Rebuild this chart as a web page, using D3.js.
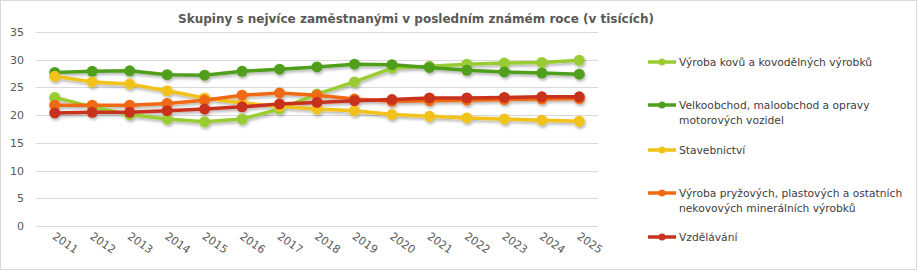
<!DOCTYPE html>
<html lang="cs">
<head>
  <meta charset="UTF-8">
  <title>Skupiny s nejvíce zaměstnanými</title>
  <script src="https://d3js.org/d3.v7.min.js"></script>
  <style>
    body {
      margin: 0;
      background: white;
      font-family: "DejaVu Sans", sans-serif;
    }

    svg {
      display: block;
    }

    .grid line {
      stroke: #d9d9d9;
      stroke-width: 1;
    }

    .axis text {
      fill: #595959;
      font-size: 11px;
    }

    .legend text {
      fill: #404040;
      font-size: 10.7px;
    }
  </style>
</head>
<body>
  <svg id="chart"></svg>
  <script>
    // Years and series (thousands of employees)
    const years = ["2011", "2012", "2013", "2014", "2015", "2016", "2017", "2018",
      "2019", "2020", "2021", "2022", "2023", "2024", "2025"];

    const kovy = [23.2, 21.5, 20.1, 19.3, 18.8, 19.3, 21.1, 23.8, 26.0, 28.5, 28.8, 29.2, 29.4, 29.5, 29.9];
    const obchod = [27.7, 27.9, 28.0, 27.3, 27.2, 27.9, 28.3, 28.7, 29.2, 29.1, 28.6, 28.1, 27.8, 27.6, 27.4];
    const stavebnictvi = [27.0, 26.0, 25.6, 24.4, 23.1, 22.2, 21.6, 21.1, 20.8, 20.1, 19.8, 19.5, 19.3, 19.1, 18.9];
    const pryz = [21.8, 21.8, 21.8, 22.1, 22.7, 23.6, 24.0, 23.6, 22.9, 22.5, 22.6, 22.7, 22.8, 22.9, 23.0];
    const vzdelavani = [20.4, 20.5, 20.5, 20.8, 21.1, 21.5, 22.0, 22.3, 22.6, 22.8, 23.1, 23.1, 23.2, 23.3, 23.3];

    const seriesNames = [
      ["Výroba kovů a kovodělných výrobků"],
      ["Velkoobchod, maloobchod a opravy", "motorových vozidel"],
      ["Stavebnictví"],
      ["Výroba pryžových, plastových a ostatních", "nekovových minerálních výrobků"],
      ["Vzdělávání"]
    ];
    const seriesColors = ["#99cc33", "#4f9f1f", "#f2c21a", "#f06a12", "#c8321e"];
    const yTicks = [0, 5, 10, 15, 20, 25, 30, 35];

    const series = [kovy, obchod, stavebnictvi, pryz, vzdelavani].map((values, i) => ({
      names: seriesNames[i],
      color: seriesColors[i],
      values: values
    }));

    const width = 920;
    const height = 273;

    const svg = d3.select("#chart")
      .attr("width", width)
      .attr("height", height);

    // drop shadow like the original
    const defs = svg.append("defs");
    const shadow = defs.append("filter")
      .attr("id", "shadow")
      .attr("x", "-10%").attr("y", "-50%")
      .attr("width", "120%").attr("height", "200%");
    shadow.append("feDropShadow")
      .attr("dx", 1).attr("dy", 2)
      .attr("stdDeviation", 1.5)
      .attr("flood-color", "#000")
      .attr("flood-opacity", 0.3);

    // outer frame
    svg.append("rect")
      .attr("x", 0.5).attr("y", 0.5)
      .attr("width", 916).attr("height", 269)
      .attr("fill", "white")
      .attr("stroke", "#d9d9d9");

    // title
    svg.append("text")
      .attr("x", 416)
      .attr("y", 23)
      .attr("text-anchor", "middle")
      .attr("font-size", "12px")
      .attr("font-weight", "bold")
      .attr("fill", "#595959")
      .text("Skupiny s nejvíce zaměstnanými v posledním známém roce (v tisících)");

    // scales
    const x = d3.scaleBand()
      .domain(years)
      .range([36, 598]);

    const y = d3.scaleLinear()
      .domain([0, 35])
      .range([226, 32]);

    // gridlines
    svg.append("g")
      .attr("class", "grid")
      .selectAll("line")
      .data(yTicks)
      .enter()
      .append("line")
      .attr("x1", 36)
      .attr("x2", 598)
      .attr("y1", d => Math.round(y(d)) + 0.5)
      .attr("y2", d => Math.round(y(d)) + 0.5);

    // Y axis
    const yAxis = svg.append("g")
      .attr("class", "axis")
      .attr("transform", "translate(30, 0)")
      .call(d3.axisLeft(y).tickValues(yTicks).tickSize(0).tickPadding(6));
    yAxis.select(".domain").remove();
    yAxis.selectAll("text").attr("font-family", "DejaVu Sans");

    // X axis, rotated labels
    const xAxis = svg.append("g")
      .attr("class", "axis")
      .attr("transform", "translate(0, 226)")
      .call(d3.axisBottom(x).tickSize(0).tickPadding(0));
    xAxis.select(".domain").remove();
    xAxis.selectAll("text")
      .attr("font-family", "DejaVu Sans")
      .attr("font-size", "10.5px")
      .attr("text-anchor", "start")
      .attr("dy", 0)
      .attr("y", 0)
      .attr("transform", "translate(-3, 12) rotate(35)");

    // lines
    const line = d3.line()
      .x((d, i) => x(years[i]) + x.bandwidth() / 2)
      .y(d => y(d));

    const plot = svg.append("g").attr("filter", "url(#shadow)");

    series.forEach(s => {
      const g = plot.append("g");
      g.append("path")
        .datum(s.values)
        .attr("fill", "none")
        .attr("stroke", s.color)
        .attr("stroke-width", 3.5)
        .attr("stroke-linejoin", "round")
        .attr("d", line);

      g.selectAll("circle")
        .data(s.values)
        .enter()
        .append("circle")
        .attr("cx", (d, i) => x(years[i]) + x.bandwidth() / 2)
        .attr("cy", d => y(d))
        .attr("r", 5.5)
        .attr("fill", s.color);
    });

    // legend
    const legendY = [62, 105, 150, 193, 237];
    const legend = svg.append("g").attr("class", "legend");

    series.forEach((s, i) => {
      const item = legend.append("g")
        .attr("transform", `translate(648, ${legendY[i]})`);
      item.append("line")
        .attr("x1", 0).attr("x2", 28)
        .attr("y1", 0).attr("y2", 0)
        .attr("stroke", s.color)
        .attr("stroke-width", 3.5);
      item.append("circle")
        .attr("cx", 14).attr("cy", 0)
        .attr("r", 3.5)
        .attr("fill", s.color);
      s.names.forEach((name, j) => {
        item.append("text")
          .attr("x", 31)
          .attr("y", 4 + j * 14.5)
          .text(name);
      });
    });
  </script>
</body>
</html>
